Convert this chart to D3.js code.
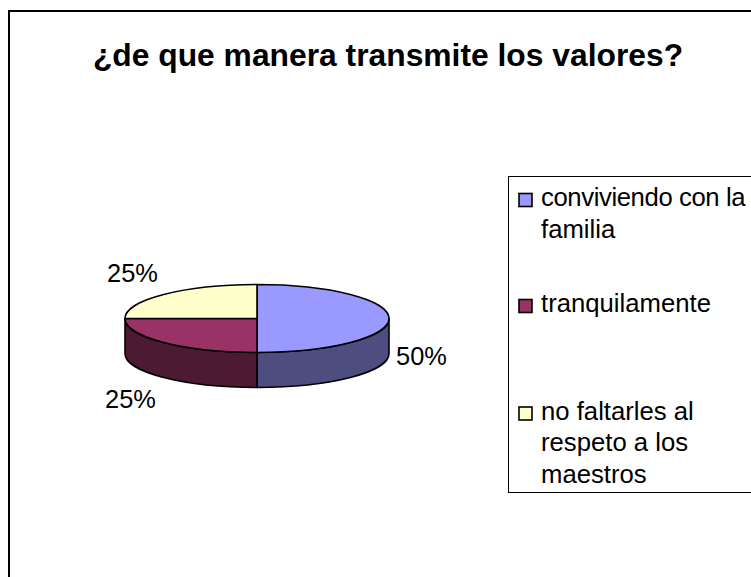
<!DOCTYPE html>
<html>
<head>
<meta charset="utf-8">
<script src="https://cdn.jsdelivr.net/npm/d3@7"></script>
<style>
html,body{margin:0;padding:0;background:#fff;overflow:hidden}
svg{display:block}
text{font-family:"Liberation Sans",Arial,sans-serif;fill:#000}
</style>
</head>
<body>
<svg id="c" width="751" height="577"></svg>
<script>
const title = "¿de que manera transmite los valores?";
const categories = ["conviviendo con la familia", "tranquilamente", "no faltarles al respeto a los maestros"];
const legendLines = [["conviviendo con la", "familia"], ["tranquilamente"], ["no faltarles al", "respeto a los", "maestros"]];
const values = [50, 25, 25];
const topColors = ["#9999FF", "#993366", "#FFFFCC"];
const sideColors = ["#4D4D80", "#4D1A33", "#80805F"];
const labels = ["50%", "25%", "25%"];

const W = 751, H = 577;
const svg = d3.select("#c");
svg.append("rect").attr("width", W).attr("height", H).attr("fill", "#fff");
svg.append("rect").attr("x", 9).attr("y", 11).attr("width", W + 20).attr("height", H + 20)
  .attr("fill", "#fff").attr("stroke", "#000").attr("stroke-width", 2);

svg.append("text").attr("x", 388).attr("y", 66).attr("text-anchor", "middle")
  .attr("font-weight", "bold").attr("font-size", 31.8).text(title);

// pie geometry
const cx = 257, cy = 318.5, rx = 132, ry = 34, depth = 35;
const slices = d3.pie().sort(null).startAngle(0).endAngle(2 * Math.PI)(values);
const ex = a => cx + rx * Math.sin(a), ey = a => cy - ry * Math.cos(a);

const pie = svg.append("g").attr("stroke", "#000").attr("stroke-width", 1.6).attr("stroke-linejoin", "round");

// side walls (front half only)
slices.forEach((s, i) => {
  const a0 = Math.max(s.startAngle, Math.PI / 2), a1 = Math.min(s.endAngle, 3 * Math.PI / 2);
  if (a1 <= a0) return;
  const d = `M${ex(a0)},${ey(a0)}A${rx},${ry} 0 0 1 ${ex(a1)},${ey(a1)}` +
    `L${ex(a1)},${ey(a1) + depth}A${rx},${ry} 0 0 0 ${ex(a0)},${ey(a0) + depth}Z`;
  pie.append("path").attr("d", d).attr("fill", sideColors[i]);
});

// top faces
slices.forEach((s, i) => {
  const large = s.endAngle - s.startAngle > Math.PI ? 1 : 0;
  const d = `M${cx},${cy}L${ex(s.startAngle)},${ey(s.startAngle)}` +
    `A${rx},${ry} 0 ${large} 1 ${ex(s.endAngle)},${ey(s.endAngle)}Z`;
  pie.append("path").attr("d", d).attr("fill", topColors[i]);
});

// data labels
const labelPos = [[421.5, 365], [130.5, 408], [132.5, 282]];
labels.forEach((t, i) => {
  svg.append("text").attr("x", labelPos[i][0]).attr("y", labelPos[i][1])
    .attr("text-anchor", "middle").attr("font-size", 25.4).text(t);
});

// legend
svg.append("rect").attr("x", 508.5).attr("y", 176.5).attr("width", 260).attr("height", 316)
  .attr("fill", "#fff").attr("stroke", "#000").attr("stroke-width", 1);
const legendBase = [206, 312, 419.5];
legendLines.forEach((lines, i) => {
  svg.append("rect").attr("x", 519).attr("y", legendBase[i] - 12.5).attr("width", 13).attr("height", 13)
    .attr("fill", topColors[i]).attr("stroke", "#000").attr("stroke-width", 1.6);
  lines.forEach((l, j) => {
    svg.append("text").attr("x", 541).attr("y", legendBase[i] + j * 31.5).attr("font-size", 25.7)
      .attr("letter-spacing", l.startsWith("conviviendo") ? -0.4 : 0).text(l);
  });
});
</script>
</body>
</html>
